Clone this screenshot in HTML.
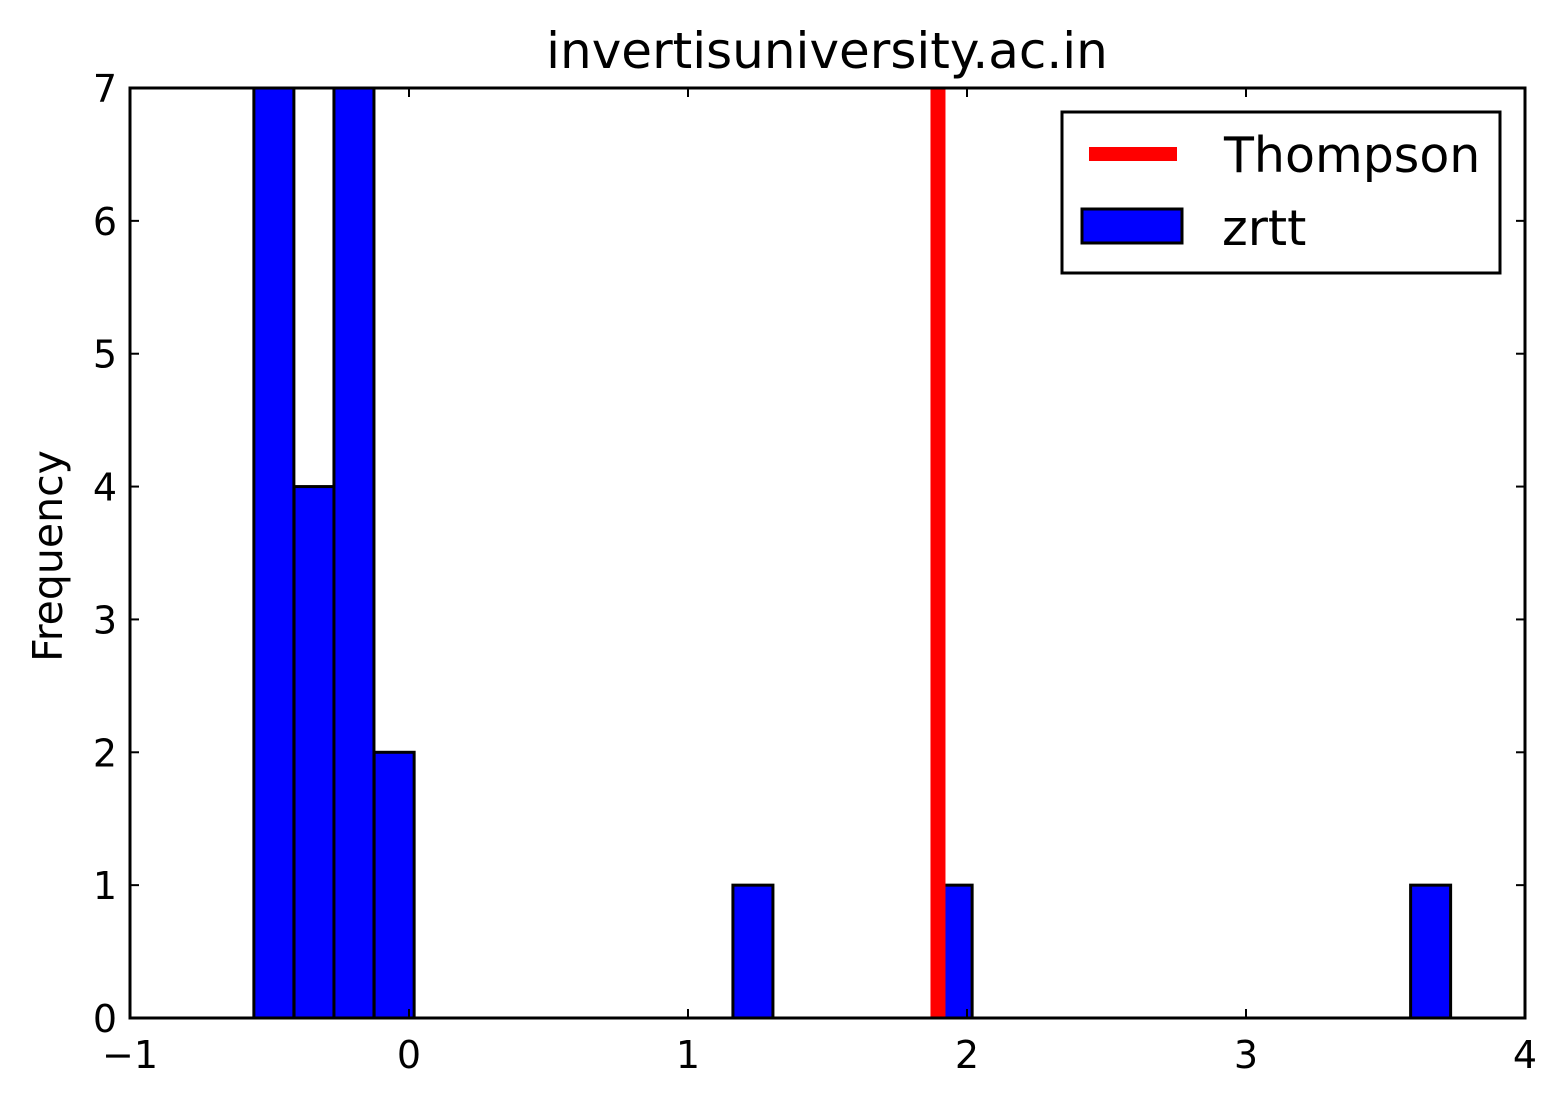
<!DOCTYPE html>
<html><head><meta charset="utf-8"><style>
body{margin:0;background:#fff;}
svg text{font-family:"DejaVu Sans","Liberation Sans",sans-serif;}
</style></head><body>
<svg id="chart" width="1565" height="1105" viewBox="0 0 1565 1105" xmlns="http://www.w3.org/2000/svg">
<text x="827" y="68" font-size="50" text-anchor="middle">invertisuniversity.ac.in</text>
<text transform="translate(62,556) rotate(-90)" font-size="41" text-anchor="middle">Frequency</text>
<g id="bars"></g>
<g id="ticks"></g>
<rect x="130" y="88" width="1395" height="930" fill="none" stroke="#000" stroke-width="3"/>
<g>
<rect x="1062" y="112" width="438" height="161" fill="#fff" stroke="#000" stroke-width="3"/>
<line x1="1089" y1="154" x2="1177" y2="154" stroke="#ff0000" stroke-width="14"/>
<text x="1224" y="172" font-size="49">Thompson</text>
<rect x="1082" y="209" width="100" height="34" fill="#0000ff" stroke="#000" stroke-width="3"/>
<text x="1222" y="245" font-size="49">zrtt</text>
</g>
</svg>
<script>
const binLefts=[-0.556,-0.412,-0.269,-0.125,1.161,1.875,3.59];
const counts=[7,4,7,2,1,1,1];
const binWidth=0.1434;
const thompsonX=[1.896];
const xTicks=[-1,0,1,2,3,4];
const xTickLabels=["\u22121","0","1","2","3","4"];
const yTicks=[0,1,2,3,4,5,6,7];
const X0=130,X1=1525,Y0=1018,Y1=88;
const sx=v=>X0+(v-(-1))/(4-(-1))*(X1-X0);
const sy=v=>Y0-(v-0)/(7-0)*(Y0-Y1);
const NS="http://www.w3.org/2000/svg";
const bars=document.getElementById('bars');
binLefts.forEach((b,i)=>{
 const r=document.createElementNS(NS,'rect');
 
 
 r.setAttribute('x',sx(b));r.setAttribute('width',sx(b+binWidth)-sx(b));
 r.setAttribute('y',sy(counts[i]));r.setAttribute('height',sy(0)-sy(counts[i]));
 r.setAttribute('fill','#0000ff');r.setAttribute('stroke','#000');r.setAttribute('stroke-width','3');
 bars.appendChild(r);
});
thompsonX.forEach(v=>{
 const l=document.createElementNS(NS,'line');
 
 
 l.setAttribute('x1',sx(v));l.setAttribute('x2',sx(v));l.setAttribute('y1',Y1);l.setAttribute('y2',Y0);
 l.setAttribute('stroke','#ff0000');l.setAttribute('stroke-width','15');
 bars.appendChild(l);
});
const tk=document.getElementById('ticks');
function ln(x1,y1,x2,y2){const l=document.createElementNS(NS,'line');l.setAttribute('x1',x1);l.setAttribute('y1',y1);l.setAttribute('x2',x2);l.setAttribute('y2',y2);l.setAttribute('stroke','#000');l.setAttribute('stroke-width','2');


tk.appendChild(l);}
function tx(x,y,s,a){const t=document.createElementNS(NS,'text');t.setAttribute('x',x);t.setAttribute('y',y);t.setAttribute('font-size','38');t.setAttribute('text-anchor',a);t.textContent=s;


tk.appendChild(t);}
xTicks.forEach((v,i)=>{const x=sx(v);ln(x,Y0,x,Y0-9);ln(x,Y1,x,Y1+9);tx(x,1068,xTickLabels[i],'middle');});
yTicks.forEach(v=>{const y=sy(v);ln(X0,y,X0+9,y);ln(X1,y,X1-9,y);tx(117,y+14,String(v),'end');});
</script>
</body></html>
